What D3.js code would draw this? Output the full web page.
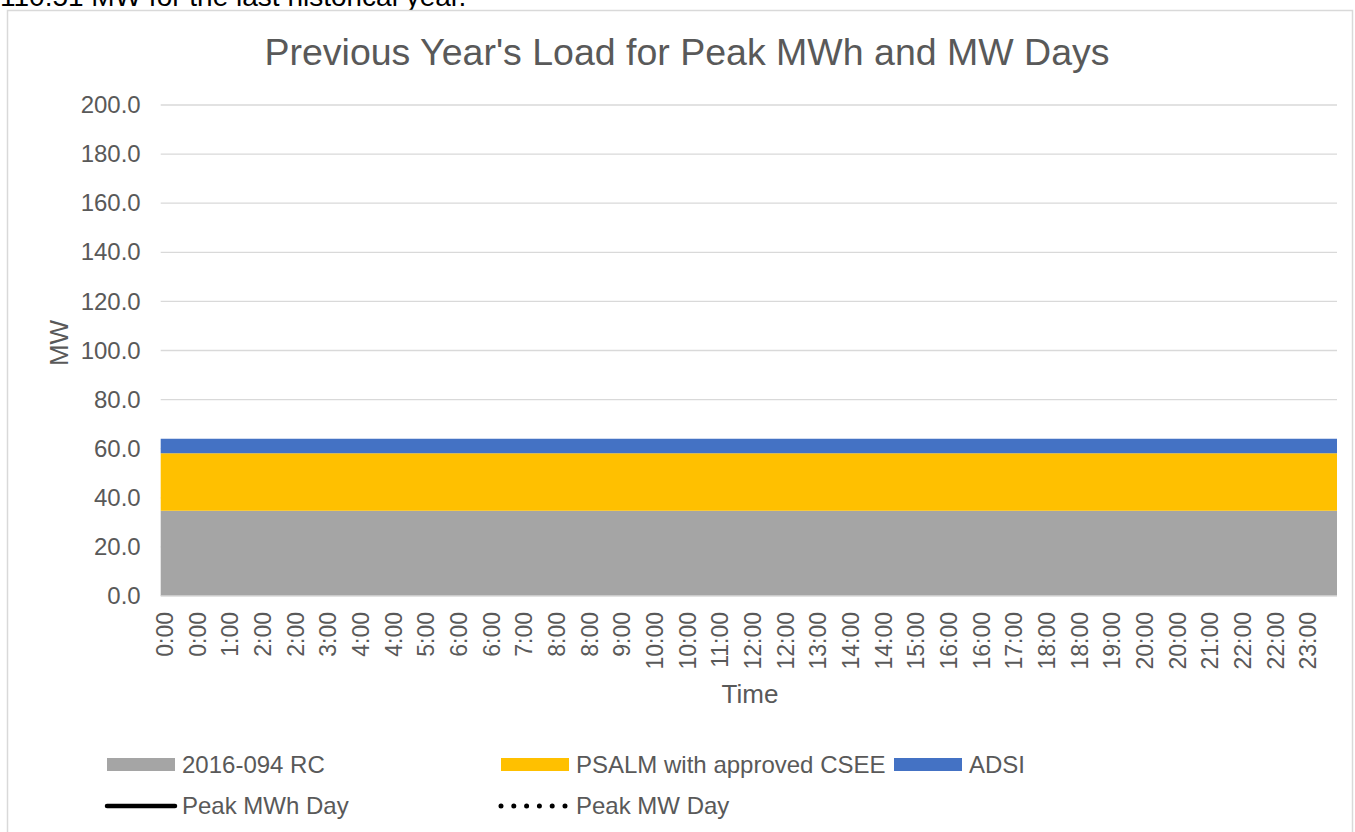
<!DOCTYPE html>
<meta charset="utf-8">
<style>
    body { margin: 0; background: #fff; }
    svg { font-family: "Liberation Sans", Arial, sans-serif; }
</style>
<div id="chart"></div>
<script src="https://cdn.jsdelivr.net/npm/d3@7"></script>
<script>
    // 20 minute steps through the day
    var times = ["0:00","0:20","0:40","1:00","1:20","1:40","2:00","2:20","2:40","3:00","3:20","3:40",
                 "4:00","4:20","4:40","5:00","5:20","5:40","6:00","6:20","6:40","7:00","7:20","7:40",
                 "8:00","8:20","8:40","9:00","9:20","9:40","10:00","10:20","10:40","11:00","11:20","11:40",
                 "12:00","12:20","12:40","13:00","13:20","13:40","14:00","14:20","14:40","15:00","15:20","15:40",
                 "16:00","16:20","16:40","17:00","17:20","17:40","18:00","18:20","18:40","19:00","19:20","19:40",
                 "20:00","20:20","20:40","21:00","21:20","21:40","22:00","22:20","22:40","23:00","23:20","23:40"];

    // labels as printed under every second point
    var tickLabels = ["0:00","0:00","1:00","2:00","2:00","3:00","4:00","4:00","5:00","6:00","6:00","7:00",
                      "8:00","8:00","9:00","10:00","10:00","11:00","12:00","12:00","13:00","14:00","14:00","15:00",
                      "16:00","16:00","17:00","18:00","18:00","19:00","20:00","20:00","21:00","22:00","22:00","23:00"];

    var rc = [34.7,34.7,34.7,34.7,34.7,34.7,34.7,34.7,34.7,34.7,34.7,34.7,34.7,34.7,34.7,34.7,34.7,34.7,34.7,34.7,34.7,34.7,34.7,34.7,
              34.7,34.7,34.7,34.7,34.7,34.7,34.7,34.7,34.7,34.7,34.7,34.7,34.7,34.7,34.7,34.7,34.7,34.7,34.7,34.7,34.7,34.7,34.7,34.7,
              34.7,34.7,34.7,34.7,34.7,34.7,34.7,34.7,34.7,34.7,34.7,34.7,34.7,34.7,34.7,34.7,34.7,34.7,34.7,34.7,34.7,34.7,34.7,34.7];
    var psalm = [23.4,23.4,23.4,23.4,23.4,23.4,23.4,23.4,23.4,23.4,23.4,23.4,23.4,23.4,23.4,23.4,23.4,23.4,23.4,23.4,23.4,23.4,23.4,23.4,
                 23.4,23.4,23.4,23.4,23.4,23.4,23.4,23.4,23.4,23.4,23.4,23.4,23.4,23.4,23.4,23.4,23.4,23.4,23.4,23.4,23.4,23.4,23.4,23.4,
                 23.4,23.4,23.4,23.4,23.4,23.4,23.4,23.4,23.4,23.4,23.4,23.4,23.4,23.4,23.4,23.4,23.4,23.4,23.4,23.4,23.4,23.4,23.4,23.4];
    var adsi = [6.0,6.0,6.0,6.0,6.0,6.0,6.0,6.0,6.0,6.0,6.0,6.0,6.0,6.0,6.0,6.0,6.0,6.0,6.0,6.0,6.0,6.0,6.0,6.0,
                6.0,6.0,6.0,6.0,6.0,6.0,6.0,6.0,6.0,6.0,6.0,6.0,6.0,6.0,6.0,6.0,6.0,6.0,6.0,6.0,6.0,6.0,6.0,6.0,
                6.0,6.0,6.0,6.0,6.0,6.0,6.0,6.0,6.0,6.0,6.0,6.0,6.0,6.0,6.0,6.0,6.0,6.0,6.0,6.0,6.0,6.0,6.0,6.0];

    // peak day lines have no points in this chart, only legend entries
    var peakMWhDay = [];
    var peakMWDay = [];

    var yTicks = [0, 20, 40, 60, 80, 100, 120, 140, 160, 180, 200];

    var seriesNames = ["2016-094 RC", "PSALM with approved CSEE", "ADSI"];
    var seriesColors = ["#a5a5a5", "#ffc000", "#4472c4"];

    var W = 1355, H = 832;
    var margin = {top: 105, right: 18, bottom: 236, left: 160.7},
        width = W - margin.left - margin.right,
        height = H - margin.top - margin.bottom;

    var svg = d3.select("#chart").append("svg")
        .attr("width", W)
        .attr("height", H);

    // text above the chart, cut by the top edge
    svg.append("text")
        .attr("x", 0)
        .attr("y", 6)
        .style("font-size", "28px")
        .style("fill", "#000")
        .text("110.51 MW for the last historical year.");

    // chart border
    svg.append("rect")
        .attr("x", 7.5).attr("y", 10.5)
        .attr("width", 1345).attr("height", 900)
        .attr("fill", "#fff")
        .attr("stroke", "#d9d9d9")
        .attr("stroke-width", 1.5);

    svg.append("text")
        .attr("x", 687)
        .attr("y", 65)
        .attr("text-anchor", "middle")
        .style("font-size", "37.5px")
        .style("fill", "#595959")
        .text("Previous Year's Load for Peak MWh and MW Days");

    var g = svg.append("g")
        .attr("transform", "translate(" + margin.left + "," + margin.top + ")");

    var x = d3.scaleBand().domain(times).range([0, width]).padding(0);
    // area points run edge to edge
    var xa = d3.scaleLinear().domain([0, times.length - 1]).range([0, width]);
    var y = d3.scaleLinear().domain([0, 200]).range([height, 0]);

    // gridlines
    g.append("g")
        .selectAll("line")
        .data(yTicks.slice(1))
        .enter().append("line")
        .attr("x1", 0).attr("x2", width)
        .attr("y1", function(d) { return y(d); })
        .attr("y2", function(d) { return y(d); })
        .attr("stroke", "#d9d9d9")
        .attr("stroke-width", 1.3);

    // stacked areas
    var table = times.map(function(t, i) {
        return {time: t, "2016-094 RC": rc[i], "PSALM with approved CSEE": psalm[i], "ADSI": adsi[i]};
    });
    var stacked = d3.stack().keys(seriesNames)(table);

    g.selectAll(".area")
        .data(stacked)
        .enter().append("path")
        .attr("class", "area")
        .attr("fill", function(d, i) { return seriesColors[i]; })
        .attr("d", d3.area()
            .x(function(d, i) { return xa(i); })
            .y0(function(d) { return y(d[0]); })
            .y1(function(d) { return y(d[1]); }));

    // x axis line
    g.append("line")
        .attr("x1", 0).attr("x2", width)
        .attr("y1", y(0)).attr("y2", y(0))
        .attr("stroke", "#d9d9d9")
        .attr("stroke-width", 1.5);

    // y axis
    var yAxis = g.append("g")
        .call(d3.axisLeft(y).tickValues(yTicks).tickFormat(d3.format(".1f")).tickSize(0).tickPadding(20));
    yAxis.select(".domain").remove();
    yAxis.selectAll("text")
        .style("font-size", "24px")
        .style("fill", "#595959")
        .style("font-family", "Liberation Sans, Arial, sans-serif");

    // x axis labels, every second point
    var xTickValues = times.filter(function(d, i) { return i % 2 === 0; });
    var xAxis = g.append("g")
        .attr("transform", "translate(0," + height + ")")
        .call(d3.axisBottom(x).tickValues(xTickValues)
            .tickFormat(function(d, i) { return tickLabels[i]; })
            .tickSize(0));
    xAxis.select(".domain").remove();
    xAxis.selectAll("text")
        .attr("text-anchor", "end")
        .attr("transform", "translate(0,16) rotate(-90)")
        .attr("x", 0).attr("y", 0)
        .attr("dy", "4")
        .attr("dx", 0)
        .style("font-size", "23px")
        .style("fill", "#595959")
        .style("font-family", "Liberation Sans, Arial, sans-serif");

    // axis titles
    svg.append("text")
        .attr("x", 750).attr("y", 703)
        .attr("text-anchor", "middle")
        .style("font-size", "26px")
        .style("fill", "#595959")
        .text("Time");

    svg.append("text")
        .attr("transform", "translate(68,343) rotate(-90)")
        .attr("text-anchor", "middle")
        .style("font-size", "26px")
        .style("fill", "#595959")
        .text("MW");

    // legend
    var legendItems = [
        {name: seriesNames[0], kind: "box", color: seriesColors[0], col: 0, row: 0},
        {name: seriesNames[1], kind: "box", color: seriesColors[1], col: 1, row: 0},
        {name: seriesNames[2], kind: "box", color: seriesColors[2], col: 2, row: 0},
        {name: "Peak MWh Day", kind: "solid", color: "#000", col: 0, row: 1, data: peakMWhDay},
        {name: "Peak MW Day", kind: "dot", color: "#000", col: 1, row: 1, data: peakMWDay}
    ];
    var colX = [107, 501, 894], rowY = [765, 806];

    var leg = svg.append("g").selectAll("g")
        .data(legendItems)
        .enter().append("g")
        .attr("transform", function(d) { return "translate(" + colX[d.col] + "," + rowY[d.row] + ")"; });

    leg.filter(function(d) { return d.kind === "box"; })
        .append("rect")
        .attr("x", 0).attr("y", -7)
        .attr("width", 68).attr("height", 13)
        .attr("fill", function(d) { return d.color; });

    leg.filter(function(d) { return d.kind === "solid"; })
        .append("line")
        .attr("x1", 0).attr("x2", 68)
        .attr("stroke", "#000")
        .attr("stroke-width", 4.5)
        .attr("stroke-linecap", "round");

    leg.filter(function(d) { return d.kind === "dot"; })
        .append("line")
        .attr("x1", 0).attr("x2", 65)
        .attr("stroke", "#000")
        .attr("stroke-width", 5)
        .attr("stroke-linecap", "round")
        .attr("stroke-dasharray", "0 12.8");

    leg.append("text")
        .attr("x", 75)
        .attr("y", 8)
        .style("font-size", "24px")
        .style("fill", "#595959")
        .text(function(d) { return d.name; });
</script>
